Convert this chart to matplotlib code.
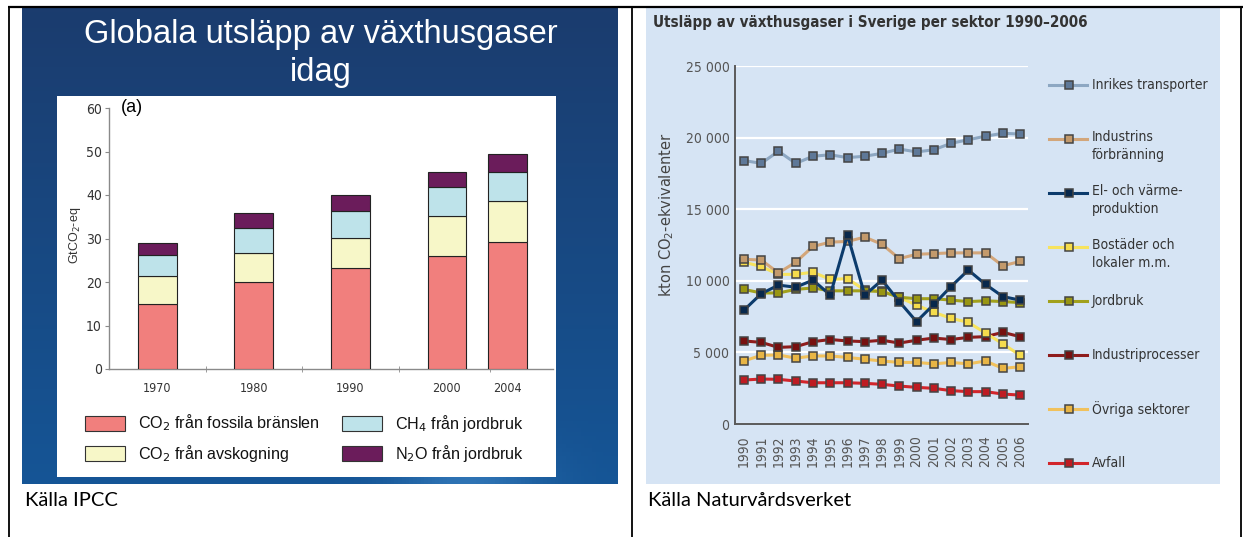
import numpy as np
import matplotlib
matplotlib.use("Agg")
import matplotlib.pyplot as plt
from matplotlib.lines import Line2D
from matplotlib.patches import Rectangle

W, H = 1245, 537

# ---------------- Left chart data (IPCC) ----------------
bar_years = ["1970", "1980", "1990", "2000", "2004"]
bar_pos = [0, 1, 2, 3, 3.63]
co2_fossil = [15.0, 20.1, 23.3, 25.9, 29.2]
co2_forest = [6.3, 6.5, 6.8, 9.3, 9.5]
ch4_agri = [4.9, 5.9, 6.3, 6.6, 6.6]
n2o_agri = [2.7, 3.3, 3.6, 3.6, 4.2]
bar_labels = ["CO$_2$ från fossila bränslen", "CO$_2$ från avskogning",
              "CH$_4$ från jordbruk", "N$_2$O från jordbruk"]
bar_colors = ["#F17F7D", "#F7F7C8", "#BEE3EA", "#6B1C5B"]

# ---------------- Right chart data (Naturvårdsverket) ----------------
years = list(range(1990, 2007))
inrikes = [18400, 18200, 19050, 18200, 18700, 18800, 18600, 18700, 18900,
           19200, 19000, 19150, 19600, 19850, 20100, 20300, 20250]
industrins = [11500, 11450, 10550, 11300, 12400, 12700, 12750, 13050, 12550,
              11550, 11850, 11900, 11950, 11950, 11950, 11050, 11350]
el_varme = [7950, 9100, 9700, 9550, 10050, 9000, 13200, 9000, 10050,
            8550, 7150, 8350, 9600, 10750, 9750, 8900, 8650]
bostader = [11300, 11000, 10450, 10450, 10600, 10100, 10150, 9350, 9300,
            8850, 8300, 7800, 7380, 7100, 6350, 5600, 4800]
jordbruk = [9400, 9150, 9150, 9400, 9500, 9300, 9300, 9300, 9250,
            8850, 8750, 8750, 8650, 8550, 8600, 8550, 8480]
industriproc = [5800, 5700, 5350, 5400, 5750, 5900, 5800, 5750, 5850,
                5650, 5850, 6000, 5900, 6050, 6100, 6400, 6100]
ovriga = [4400, 4800, 4820, 4600, 4750, 4750, 4650, 4520, 4400,
          4300, 4300, 4200, 4300, 4200, 4400, 3880, 4000]
avfall = [3070, 3140, 3120, 3000, 2880, 2880, 2880, 2840, 2770,
          2650, 2560, 2490, 2330, 2260, 2260, 2090, 2020]

series_names = ["Inrikes transporter", "Industrins\nförbränning",
                "El- och värme-\nproduktion", "Bostäder och\nlokaler m.m.",
                "Jordbruk", "Industriprocesser", "Övriga sektorer", "Avfall"]
series_vals = [inrikes, industrins, el_varme, bostader, jordbruk,
               industriproc, ovriga, avfall]
line_colors = ["#8DA7C2", "#D3A67A", "#0C3B6C", "#F7E35E",
               "#A2A11C", "#8E1C1C", "#F1C15C", "#D2252B"]
face_colors = ["#5E7898", "#C39A6C", "#08284C", "#F5DC4C",
               "#999612", "#761010", "#E8B545", "#BE1B22"]
draw_order = [7, 6, 5, 3, 4, 1, 0, 2]

fig = plt.figure(figsize=(W / 100, H / 100), dpi=100)
fig.patch.set_facecolor("white")


def rect(x0, y0, x1, y1):
    return [x0 / W, 1 - y1 / H, (x1 - x0) / W, (y1 - y0) / H]


# ---------------- background / decoration layer ----------------
bg = fig.add_axes([0, 0, 1, 1], zorder=0)
bg.set_axis_off()

# slide gradient
ny, nx = 120, 160
yy, xx = np.mgrid[0:1:ny * 1j, 0:1:nx * 1j]
top = np.array([0x1B, 0x3C, 0x6E]) / 255
bot = np.array([0x15, 0x55, 0x96]) / 255
img = top[None, None, :] * (1 - yy[..., None]) + bot[None, None, :] * yy[..., None]
glow = np.exp(-(((xx - 0.75) / 0.12) ** 2 + ((yy - 1.0) / 0.08) ** 2))
img = img + glow[..., None] * np.array([0.10, 0.12, 0.12])
img = np.clip(img, 0, 1)
bg.imshow(img, extent=(22, 618, 484, 8), aspect="auto", origin="upper", zorder=1)

# white panel on slide
bg.add_patch(Rectangle((57, 96), 499, 381, facecolor="white", edgecolor="none", zorder=2))
# right chart light blue background
bg.add_patch(Rectangle((646, 8), 574, 476, facecolor="#D6E4F4", edgecolor="none", zorder=2))

# table borders
bg.plot([8, 1243], [7, 7], color="black", lw=1.6, zorder=5, solid_capstyle="butt")
for xv in (9, 632, 1241):
    bg.plot([xv, xv], [7, 537], color="black", lw=1.3, zorder=5, solid_capstyle="butt")

bg.set_xlim(0, W)
bg.set_ylim(H, 0)

SANS = ["Liberation Sans", "DejaVu Sans"]

# slide title
bg.text(321, 35, "Globala utsläpp av växthusgaser", color="white", fontsize=23.5,
        family=SANS, ha="center", va="center", zorder=6)
bg.text(321, 72, "idag", color="white", fontsize=23.5, family=SANS,
        ha="center", va="center", zorder=6)

# (a)
bg.text(121, 107, "(a)", fontsize=13, family=SANS, ha="left", va="center", zorder=6)
# y label
bg.text(75, 235, "GtCO$_2$-eq", fontsize=9, family=SANS, color="#333333",
        rotation=90, ha="center", va="center", zorder=6)

# legend for bar chart
leg_pos = [(85, 423), (85, 453), (342, 423), (342, 453)]
for (lx, ly), lab, col in zip(leg_pos, bar_labels, bar_colors):
    bg.add_patch(Rectangle((lx, ly - 7.5), 40, 15, facecolor=col,
                           edgecolor="#333333", lw=0.8, zorder=6))
    bg.text(lx + 53, ly, lab, fontsize=11.6, family=SANS, color="#111111",
            ha="left", va="center", zorder=6)

# source texts
bg.text(25, 500, "Källa IPCC", fontsize=14.5, family=["Lato", "DejaVu Sans"],
        ha="left", va="center", zorder=6)
bg.text(648, 500, "Källa Naturvårdsverket", fontsize=14.5,
        family=["Lato", "DejaVu Sans"], ha="left", va="center", zorder=6)

# right chart title
bg.text(653, 22, "Utsläpp av växthusgaser i Sverige per sektor 1990–2006",
        fontsize=10.9, fontweight="bold", family="DejaVu Sans",
        fontstretch="condensed", color="#333333", ha="left", va="center", zorder=6)
# right y label
bg.text(667, 215, "kton CO$_2$-ekvivalenter", fontsize=10.5, family="DejaVu Sans",
        color="#444444", rotation=90, ha="center", va="center", zorder=6)

# right legend
for i, (name, lc, fc) in enumerate(zip(series_names, line_colors, face_colors)):
    ly = 85 + 54 * i
    bg.add_line(Line2D([1049, 1087], [ly, ly], color=lc, lw=2.2, zorder=6))
    bg.add_line(Line2D([1069], [ly], marker="s", markersize=5.5,
                       markerfacecolor=fc, markeredgecolor="#444444",
                       markeredgewidth=1.1, zorder=7))
    if "\n" in name:
        bg.text(1092, ly - 9, name, fontsize=10, family="DejaVu Sans",
                fontstretch="condensed", color="#333333", ha="left", va="top",
                linespacing=1.35, zorder=6)
    else:
        bg.text(1092, ly, name, fontsize=10, family="DejaVu Sans",
                fontstretch="condensed", color="#333333", ha="left",
                va="center", zorder=6)

# ---------------- left: stacked bars ----------------
ax1 = fig.add_axes(rect(109, 108, 553, 369), zorder=3)
ax1.patch.set_alpha(0)
bottom = np.zeros(len(bar_pos))
for vals, col in zip([co2_fossil, co2_forest, ch4_agri, n2o_agri], bar_colors):
    ax1.bar(bar_pos, vals, width=0.40, bottom=bottom, color=col,
            edgecolor="#222222", linewidth=0.8, zorder=3)
    bottom = bottom + np.array(vals)
ax1.set_xlim(-0.5, 4.1)
ax1.set_ylim(0, 60)
for s in ("top", "right"):
    ax1.spines[s].set_visible(False)
for s in ("left", "bottom"):
    ax1.spines[s].set_color("#8A8A8A")
    ax1.spines[s].set_linewidth(1.0)
ax1.set_yticks(range(0, 61, 10))
ax1.tick_params(axis="y", length=3, color="#8A8A8A", labelsize=10,
                labelcolor="#333333", pad=2)
ax1.set_xticks(bar_pos)
ax1.set_xticklabels(bar_years)
ax1.set_xticks([0.5, 1.5, 2.5, 3.45], minor=True)
ax1.tick_params(axis="x", which="major", length=0, labelsize=9,
                labelcolor="#333333", pad=9)
ax1.tick_params(axis="x", which="minor", length=5, color="#8A8A8A",
                direction="inout")
for lab in ax1.get_xticklabels() + ax1.get_yticklabels():
    lab.set_family("DejaVu Sans")
    lab.set_fontstretch("condensed")

# ---------------- right: line chart ----------------
ax2 = fig.add_axes(rect(735, 66, 1028, 424), zorder=3)
ax2.patch.set_alpha(0)
ax2.set_xlim(1989.48, 2006.46)
ax2.set_ylim(0, 25000)
ax2.set_yticks(range(0, 25001, 5000))
ax2.set_yticklabels(["0", "5 000", "10 000", "15 000", "20 000", "25 000"])
ax2.grid(axis="y", color="white", lw=1.6, zorder=0)
ax2.set_axisbelow(True)
for s in ("top", "right"):
    ax2.spines[s].set_visible(False)
for s in ("left", "bottom"):
    ax2.spines[s].set_color("#5A5A5A")
    ax2.spines[s].set_linewidth(1.4)
ax2.set_xticks(years)
ax2.set_xticklabels([str(y) for y in years], rotation=90)
ax2.tick_params(axis="x", length=0, pad=8, labelsize=10, labelcolor="#555555")
ax2.tick_params(axis="y", length=0, pad=4, labelsize=10, labelcolor="#555555")
for lab in ax2.get_xticklabels() + ax2.get_yticklabels():
    lab.set_family("DejaVu Sans")
    lab.set_fontstretch("condensed")

for i in draw_order:
    ax2.plot(years, series_vals[i], color=line_colors[i], lw=2.2,
             marker="s", markersize=5.5, markerfacecolor=face_colors[i],
             markeredgecolor="#444444", markeredgewidth=1.1,
             zorder=3 + draw_order.index(i), clip_on=False)

fig.savefig("out.png", dpi=100, facecolor="white")
